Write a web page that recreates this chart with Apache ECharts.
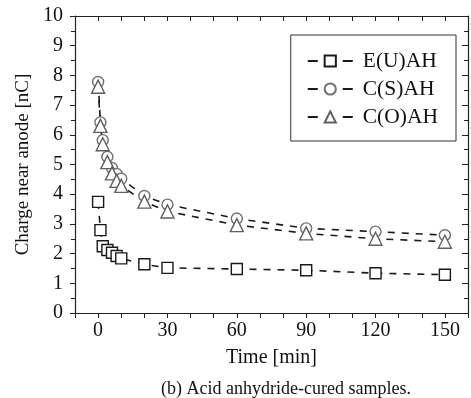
<!DOCTYPE html>
<html>
<head>
<meta charset="utf-8">
<script src="https://cdn.jsdelivr.net/npm/echarts@6/dist/echarts.min.js"></script>
<style>
html,body{margin:0;padding:0;background:#fff;}
#chart{width:471px;height:398px;}
</style>
</head>
<body>
<div id="chart"></div>
<script>
const times = [0, 1, 2, 4, 6, 8, 10, 20, 30, 60, 90, 120, 150];
const seriesNames = ['E(U)AH', 'C(S)AH', 'C(O)AH'];
const euah = [3.74, 2.79, 2.25, 2.12, 2.03, 1.92, 1.84, 1.64, 1.52, 1.48, 1.44, 1.34, 1.29];
const csah = [7.78, 6.42, 5.82, 5.26, 4.88, 4.68, 4.52, 3.94, 3.65, 3.18, 2.85, 2.74, 2.62];
const coah = [7.62, 6.30, 5.68, 5.08, 4.70, 4.45, 4.28, 3.75, 3.42, 2.96, 2.68, 2.50, 2.40];
const xTickLabels = [0, 30, 60, 90, 120, 150];
const yTickLabels = [0, 1, 2, 3, 4, 5, 6, 7, 8, 9, 10];

const FONT = '"Liberation Serif", "Times New Roman", serif';
const pair = (vals) => times.map((t, i) => [t, vals[i]]);

const chart = echarts.init(document.getElementById('chart'), null, {renderer: 'canvas'});

const lineStyle = {color: '#1a1a1a', width: 1.6, type: [7, 7]};
function mkSeries(name, vals, symbol, size, border) {
  return {
    name: name, type: 'line', data: pair(vals),
    symbol: symbol, symbolSize: size, showAllSymbol: true,
    lineStyle: lineStyle,
    itemStyle: {color: '#ffffff', borderColor: border, borderWidth: 1.4},
    emphasis: {disabled: true}, animation: false
  };
}

const option = {
  animation: false,
  backgroundColor: '#ffffff',
  grid: {left: 75, top: 16, right: 0, bottom: 85, containLabel: false},
  title: {
    text: '(b) Acid anhydride-cured samples.',
    left: 156, top: 375,
    textStyle: {fontFamily: FONT, fontSize: 18, fontWeight: 'normal', color: '#111'}
  },
  legend: {
    orient: 'vertical', right: 15, top: 35,
    data: seriesNames,
    backgroundColor: '#fff', borderColor: '#333', borderWidth: 1,
    padding: [15, 18, 13, 16],
    itemWidth: 45, itemHeight: 14, itemGap: 6,
    lineStyle: {type: [10, 25], width: 2, color: '#1a1a1a'},
    textStyle: {fontFamily: FONT, fontSize: 21.5, color: '#111', padding: [0, 0, 0, 5]}
  },
  xAxis: [{
    type: 'value', min: -10, max: 160, interval: 10,
    name: 'Time [min]', nameLocation: 'middle', nameGap: 35,
    nameTextStyle: {fontFamily: FONT, fontSize: 20, color: '#111'},
    axisLine: {show: true, onZero: false, lineStyle: {color: '#222', width: 1.2}},
    axisTick: {show: true, inside: false, length: 5, lineStyle: {color: '#222'}},
    axisLabel: {
      margin: 8, fontFamily: FONT, fontSize: 20, color: '#111',
      formatter: (v) => xTickLabels.includes(v) ? String(v) : ''
    },
    splitLine: {show: false}
  }, {
    type: 'value', min: -10, max: 160, interval: 10, position: 'top',
    axisLine: {show: true, onZero: false, lineStyle: {color: '#222', width: 1.2}},
    axisTick: {show: true, inside: true, length: 5, lineStyle: {color: '#222'}},
    axisLabel: {show: false}, splitLine: {show: false}
  }],
  yAxis: [{
    type: 'value', min: 0, max: 10, interval: 1,
    name: 'Charge near anode [nC]', nameLocation: 'middle', nameGap: 38, nameRotate: 90,
    nameTextStyle: {fontFamily: FONT, fontSize: 19, color: '#111'},
    axisLine: {show: true, onZero: false, lineStyle: {color: '#222', width: 1.2}},
    axisTick: {show: true, inside: false, length: 5, lineStyle: {color: '#222'}},
    minorTick: {show: true, splitNumber: 2, length: 4, lineStyle: {color: '#222'}},
    axisLabel: {
      margin: 12, fontFamily: FONT, fontSize: 20, color: '#111',
      formatter: (v) => yTickLabels.includes(v) ? String(v) : ''
    },
    splitLine: {show: false}, minorSplitLine: {show: false}
  }, {
    type: 'value', min: 0, max: 10, interval: 1, position: 'right',
    axisLine: {show: true, onZero: false, lineStyle: {color: '#222', width: 1.2}},
    axisTick: {show: true, inside: true, length: 6, lineStyle: {color: '#222'}},
    minorTick: {show: true, splitNumber: 2, length: 4, lineStyle: {color: '#222'}},
    axisLabel: {show: false}, splitLine: {show: false}
  }],
  series: [
    mkSeries(seriesNames[0], euah, 'rect', 11, '#1a1a1a'),
    mkSeries(seriesNames[1], csah, 'circle', 11, '#707070'),
    mkSeries(seriesNames[2], coah, 'triangle', 13, '#606060')
  ]
};
chart.setOption(option);
</script>
</body>
</html>
